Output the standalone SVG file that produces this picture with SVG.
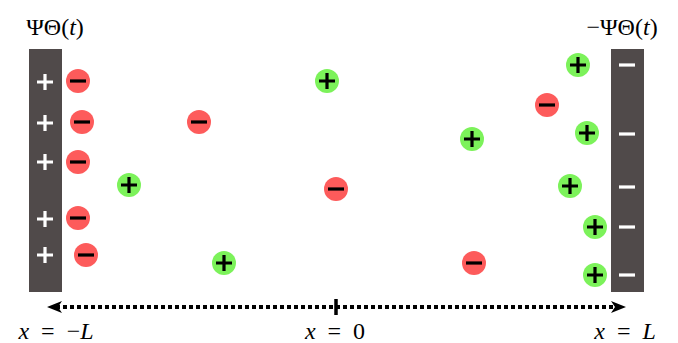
<svg xmlns="http://www.w3.org/2000/svg" width="678" height="343" viewBox="0 0 678 343">
<style>
.plate{fill:#504a4a}
.wp{stroke:#fff;stroke-width:3.2;fill:none}
.neg{fill:#fd5b5b}
.pos{fill:#7cf25a}
.sg{stroke:#000;stroke-width:3.2;fill:none}
.lbl{font-family:"Liberation Serif","DejaVu Serif",serif;font-size:24px;fill:#000}
.it{font-style:italic}
</style>
<defs>
<g id="minus"><circle r="12"/><path class="sg" d="M-8,0H8"/></g>
<g id="plus"><circle r="12"/><path class="sg" d="M-8,0H8M0,-8V8"/></g>
<path id="wplus" class="wp" d="M-8,0H8M0,-8V8"/>
<path id="wminus" class="wp" d="M-8,0H8"/>
</defs>
<g id="plate-left">
<rect class="plate" x="29" y="49" width="33" height="243"/>
<use href="#wplus" x="45" y="82"/><use href="#wplus" x="45" y="123"/><use href="#wplus" x="45" y="162"/><use href="#wplus" x="45" y="219"/><use href="#wplus" x="45" y="255"/>
</g>
<g id="plate-right">
<rect class="plate" x="611" y="49" width="33" height="243"/>
<use href="#wminus" x="627" y="65"/><use href="#wminus" x="627" y="134"/><use href="#wminus" x="627" y="187"/><use href="#wminus" x="627" y="227"/><use href="#wminus" x="627" y="275"/>
</g>
<g id="anions" class="neg">
<use href="#minus" x="78" y="81"/><use href="#minus" x="82" y="122"/><use href="#minus" x="78" y="162"/><use href="#minus" x="78" y="218"/><use href="#minus" x="86" y="255"/>
<use href="#minus" x="199" y="122"/><use href="#minus" x="336" y="189"/><use href="#minus" x="474" y="263"/><use href="#minus" x="547" y="105"/>
</g>
<g id="cations" class="pos">
<use href="#plus" x="327" y="81"/><use href="#plus" x="129" y="185"/><use href="#plus" x="224" y="263"/><use href="#plus" x="472" y="139"/>
<use href="#plus" x="578" y="65"/><use href="#plus" x="587" y="133"/><use href="#plus" x="570" y="186"/><use href="#plus" x="595" y="227"/><use href="#plus" x="595" y="275"/>
</g>
<g id="connectors">
<path d="M56,307H617" stroke="#000" stroke-width="4" stroke-dasharray="4 3" fill="none"/>
<path d="M47,307L62,301L58,307L62,313Z" fill="#000"/>
<path d="M626,307L611,301L615,307L611,313Z" fill="#000"/>
<path d="M336,299V315" stroke="#000" stroke-width="3.5"/>
</g>
<g id="labels">
<text class="lbl" x="55" y="35" text-anchor="middle">ΨΘ(<tspan class="it">t</tspan>)</text>
<text class="lbl" x="622" y="35" text-anchor="middle">−ΨΘ(<tspan class="it">t</tspan>)</text>
<text class="lbl" x="56" y="339" text-anchor="middle" xml:space="preserve"><tspan class="it">x</tspan>  =  −<tspan class="it">L</tspan></text>
<text class="lbl" x="335" y="339" text-anchor="middle" xml:space="preserve"><tspan class="it">x</tspan>  =  0</text>
<text class="lbl" x="625" y="339" text-anchor="middle" xml:space="preserve"><tspan class="it">x</tspan>  =  <tspan class="it">L</tspan></text>
</g>
</svg>
